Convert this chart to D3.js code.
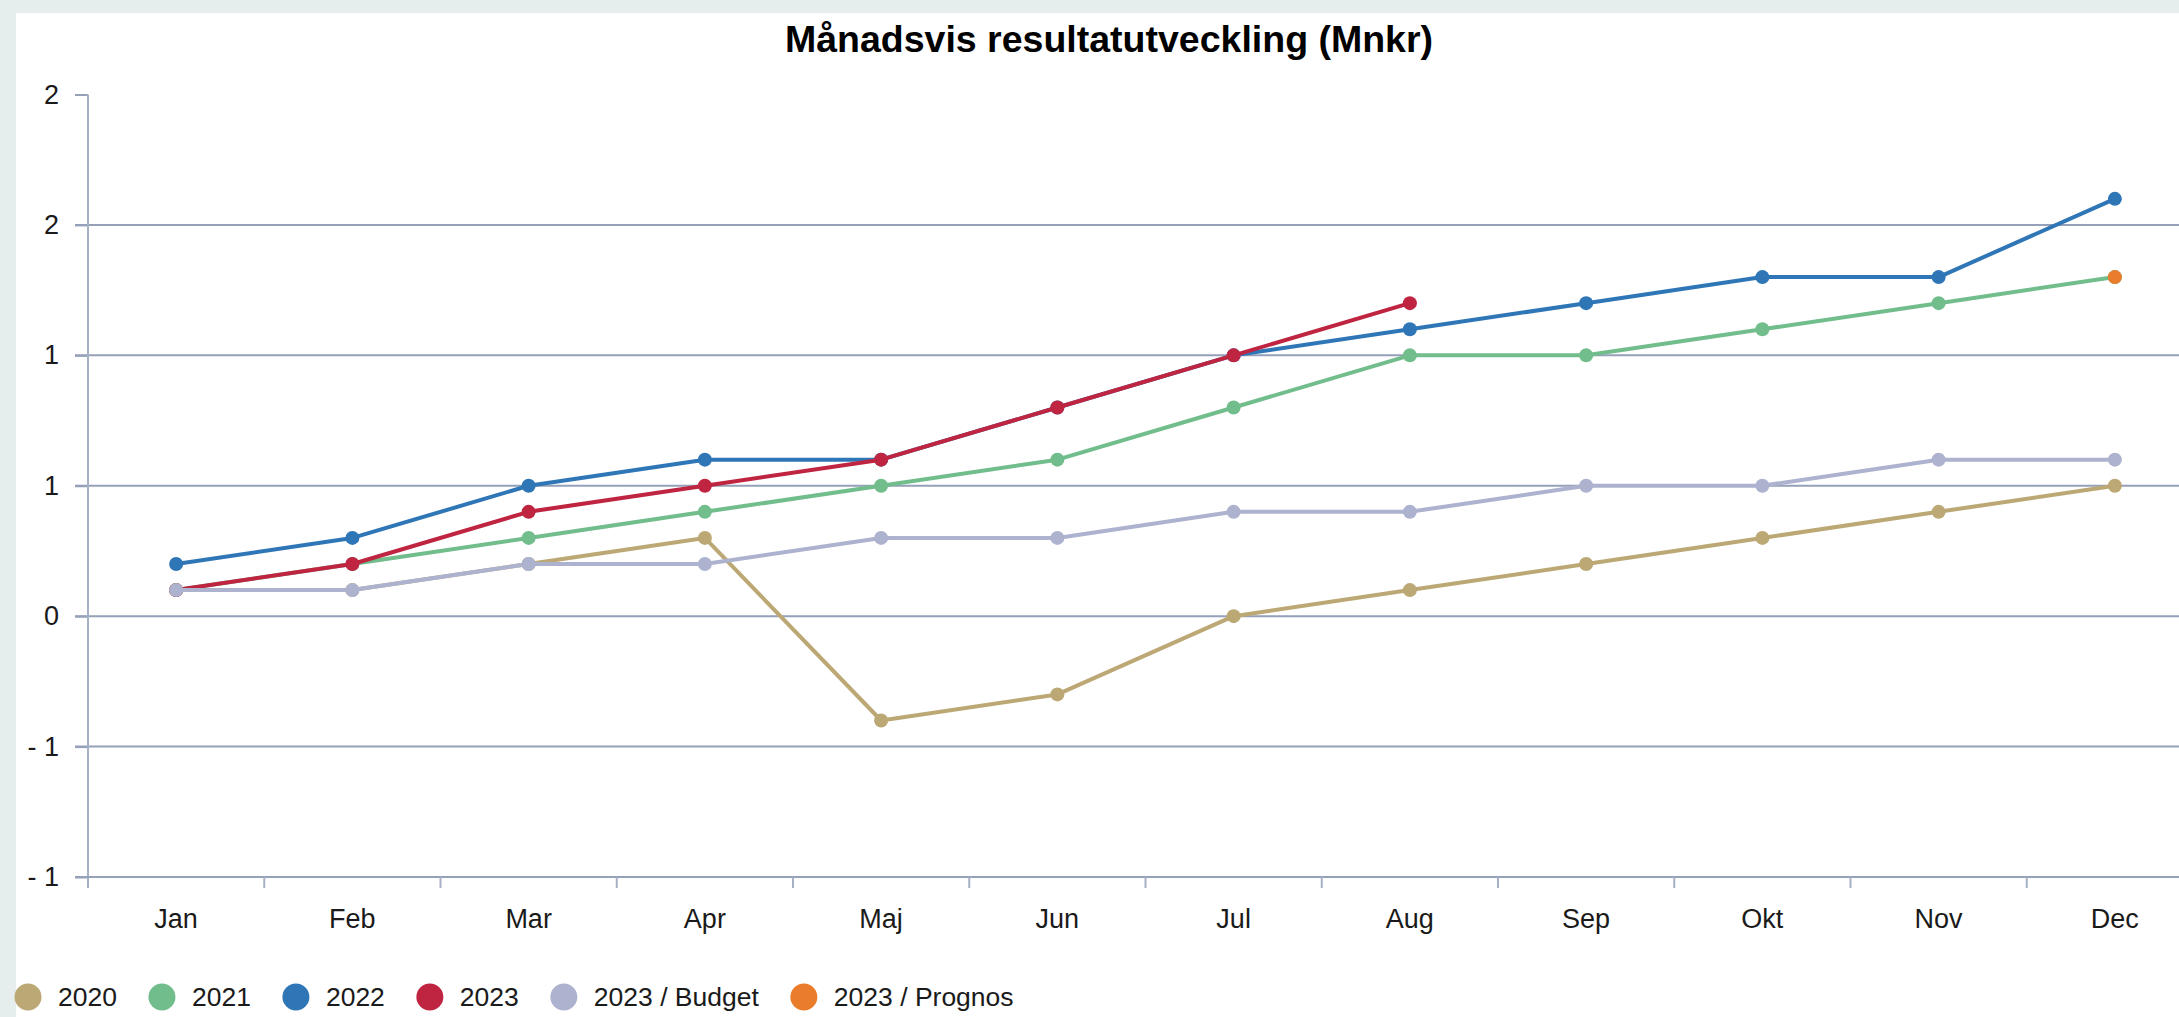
<!DOCTYPE html>
<html><head><meta charset="utf-8">
<script src="https://cdn.jsdelivr.net/npm/d3@7/dist/d3.min.js"></script>
<style>
html,body{margin:0;padding:0;background:#e5eeec;overflow:hidden;}
svg{display:block;font-family:"Liberation Sans",Arial,sans-serif;}
</style></head><body>
<svg id="c" width="2179" height="1017"></svg>
<script>
const months = ["Jan","Feb","Mar","Apr","Maj","Jun","Jul","Aug","Sep","Okt","Nov","Dec"];
const yTickValues = [2, 1.5, 1, 0.5, 0, -0.5, -1];
const yTickLabels = ["2","2","1","1","0","- 1","- 1"];
const seriesNames = ["2020","2021","2022","2023","2023 / Budget","2023 / Prognos"];
const seriesColors = ["#bca874","#72bd8c","#2f76b7","#bf2440","#adb2cf","#e97d2c"];
const v2020 = [0.1,0.1,0.2,0.3,-0.4,-0.3,0.0,0.1,0.2,0.3,0.4,0.5];
const v2021 = [0.1,0.2,0.3,0.4,0.5,0.6,0.8,1.0,1.0,1.1,1.2,1.3];
const v2022 = [0.2,0.3,0.5,0.6,0.6,0.8,1.0,1.1,1.2,1.3,1.3,1.6];
const v2023 = [0.1,0.2,0.4,0.5,0.6,0.8,1.0,1.2,null,null,null,null];
const vBudget = [0.1,0.1,0.2,0.2,0.3,0.3,0.4,0.4,0.5,0.5,0.6,0.6];
const vPrognos = [null,null,null,null,null,null,null,null,null,null,null,1.3];
const seriesValues = [v2020,v2021,v2022,v2023,vBudget,vPrognos];

const svg = d3.select("#c");
svg.append("rect").attr("x",16).attr("y",13).attr("width",2179).attr("height",1017).attr("fill","#fff");

const x = d3.scaleBand().domain(months).range([88, 2203]).padding(0);
const y = d3.scaleLinear().domain([-1, 2]).range([877, 94.5]);
const gridColor = "#95a1b9";
const textColor = "#1a1a1a";

// title
svg.append("text").attr("x",1109).attr("y",52).attr("text-anchor","middle")
  .attr("font-size",37.5).attr("font-weight","bold").attr("fill","#000")
  .text("Månadsvis resultatutveckling (Mnkr)");

// gridlines
svg.append("g").selectAll("line").data(yTickValues.filter(v => v < 2 && v > -1)).join("line")
  .attr("x1",75).attr("x2",2179).attr("y1",d=>y(d)).attr("y2",d=>y(d))
  .attr("stroke",gridColor).attr("stroke-width",2);

// y axis
const yAxis = d3.axisLeft(y).tickValues(yTickValues).tickSize(13).tickPadding(16)
  .tickFormat((d,i)=>yTickLabels[i]);
const gy = svg.append("g").attr("transform","translate(88,0)").call(yAxis);
gy.select(".domain").remove();
gy.selectAll(".tick line").attr("stroke",gridColor).attr("stroke-width",2);
gy.selectAll(".tick text").attr("font-size",27).attr("fill",textColor).attr("font-family","Liberation Sans, Arial, sans-serif");
svg.append("line").attr("x1",88).attr("x2",88).attr("y1",y(2)).attr("y2",y(-1)+11)
  .attr("stroke","#a7b1c6").attr("stroke-width",2);

// x axis
const gx = svg.append("g").attr("transform",`translate(0,${y(-1)})`);
gx.append("line").attr("x1",75).attr("x2",2179).attr("y1",0).attr("y2",0).attr("stroke",gridColor).attr("stroke-width",2);
gx.selectAll("line.t").data(months.slice(1)).join("line").attr("class","t")
  .attr("x1",d=>x(d)).attr("x2",d=>x(d)).attr("y1",0).attr("y2",11)
  .attr("stroke","#a7b1c6").attr("stroke-width",2);
gx.selectAll("text").data(months).join("text")
  .attr("x",d=>x(d)+x.bandwidth()/2).attr("y",51).attr("text-anchor","middle")
  .attr("font-size",27).attr("fill",textColor).text(d=>d);

// lines
const line = d3.line().defined(d=>d.v!==null).x(d=>x(d.m)+x.bandwidth()/2).y(d=>y(d.v));
seriesValues.forEach((vals,si)=>{
  const pts = vals.map((v,i)=>({m:months[i],v}));
  const g = svg.append("g");
  g.append("path").datum(pts).attr("d",line).attr("fill","none")
    .attr("stroke",seriesColors[si]).attr("stroke-width",4).attr("stroke-linejoin","round");
  g.selectAll("circle").data(pts.filter(d=>d.v!==null)).join("circle")
    .attr("cx",d=>x(d.m)+x.bandwidth()/2).attr("cy",d=>y(d.v)).attr("r",7)
    .attr("fill",seriesColors[si]);
});

// legend
let lx = 28;
const lg = svg.append("g");
seriesNames.forEach((n,i)=>{
  lg.append("circle").attr("cx",lx).attr("cy",997).attr("r",13.5).attr("fill",seriesColors[i]);
  const t = lg.append("text").attr("x",lx+30).attr("y",1006).attr("font-size",26.5)
    .attr("fill",textColor).text(n);
  const w = t.node().getComputedTextLength();
  lx = lx + 30 + w + 45;
});
</script></body></html>
